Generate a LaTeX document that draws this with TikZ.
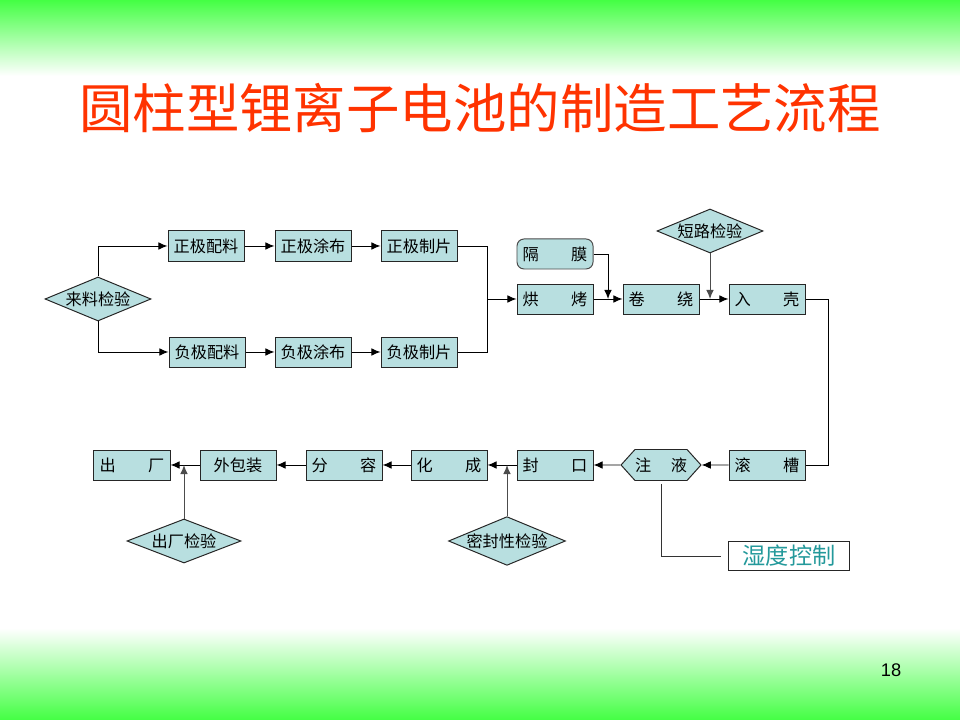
\documentclass[tikz,border=0pt]{standalone}
\usepackage{fontspec}
\setmainfont{Noto Sans CJK SC}
\newfontfamily\numfont{Liberation Sans}
\usetikzlibrary{arrows.meta,shapes.geometric,shapes.symbols,calc}
\definecolor{boxfill}{HTML}{B8DFE0}
\definecolor{titlered}{HTML}{FF3300}
\definecolor{slidegreen}{HTML}{44FF44}
\definecolor{humidtext}{HTML}{23999B}
\newcommand{\pair}[3][1.62cm]{\makebox[#1]{#2\hfill#3}}

\begin{document}
\begin{tikzpicture}[x=0.025cm, y=-0.025cm,
    >={Latex[length=6.5pt,width=5.5pt]}, line width=0.7pt,
    procbox/.style={draw=black!85, fill=boxfill, minimum width=1.9cm,
        minimum height=0.75cm, inner sep=0pt, font=\fontsize{11.5}{12}\selectfont},
    checkdia/.style={diamond, draw=black!85, fill=boxfill, aspect=2.4,
        inner sep=0pt, minimum width=2.65cm, minimum height=1.1cm,
        font=\fontsize{11.5}{12}\selectfont},
    flow/.style={->, black},
    feed/.style={->, black!70}]
    \useasboundingbox (0,0) rectangle (960,720);

    % slide background
    \fill[white] (0,0) rectangle (960,720);
    \shade[top color=slidegreen, bottom color=white] (0,0) rectangle (960,76);
    \shade[top color=white, bottom color=slidegreen] (0,628) rectangle (960,720);

    \node (title) at (480,108) {\fontsize{38}{40}\selectfont\color{titlered}圆柱型锂离子电池的制造工艺流程};
    \node (pagenum) at (891,670) {\numfont\fontsize{13}{14}\selectfont 18};

    % upper line
    \node[checkdia] (check1) at (98,299) {来料检验};
    \node[procbox] (p1) at (206,246) {正极配料};
    \node[procbox] (p2) at (313,246) {正极涂布};
    \node[procbox] (p3) at (419,246) {正极制片};
    \node[procbox] (n1) at (207,352) {负极配料};
    \node[procbox] (n2) at (313,352) {负极涂布};
    \node[procbox] (n3) at (419,352) {负极制片};
    \node[procbox, rounded corners=5pt, draw=black!70] (sep) at (555,254) {\pair{隔}{膜}};
    \node[procbox] (bake) at (555,299) {\pair{烘}{烤}};
    \node[procbox] (wind) at (661,299) {\pair{卷}{绕}};
    \node[procbox] (shell) at (767,299) {\pair{入}{壳}};
    \node[checkdia] (short) at (710,231) {短路检验};
    \coordinate (join) at (487,299);

    % lower line
    \node[procbox] (groove) at (767,465) {\pair{滚}{槽}};
    \node[signal, signal to=east and west, signal pointer angle=96,
        draw=black!85, fill=boxfill, minimum width=1.9cm, minimum height=0.775cm,
        inner sep=0pt, font=\fontsize{11.5}{12}\selectfont] (inject) at (661,465) {\pair[1.3cm]{注}{液}};
    \node[procbox] (seal) at (555,465) {\pair{封}{口}};
    \node[procbox] (form) at (449,465) {\pair{化}{成}};
    \node[procbox] (grade) at (344,465) {\pair{分}{容}};
    \node[procbox] (pack) at (238,465) {外包装};
    \node[procbox] (out) at (132,465) {\pair{出}{厂}};
    \node[checkdia, minimum width=2.8cm] (sealcheck) at (507,541) {密封性检验};
    \node[checkdia, minimum width=2.85cm] (outcheck) at (184,541) {出厂检验};
    \node[draw=black!85, fill=white, minimum width=3.025cm, minimum height=0.725cm,
        inner sep=0pt, text=humidtext, font=\fontsize{16.5}{18}\selectfont] (humid) at (789,556) {湿度控制};

    \draw[flow] (check1.north) |- (p1.west);
    \draw[flow] (check1.south) |- (n1.west);
    \draw[flow] (p1) -- (p2);
    \draw[flow] (p2) -- (p3);
    \draw[flow] (n1) -- (n2);
    \draw[flow] (n2) -- (n3);
    \draw (p3.east) -| (join);
    \draw (n3.east) -| (join);
    \draw[flow] (join) -- (bake.west);
    \draw[flow] (bake) -- (wind);
    \draw[flow] (wind) -- (shell);
    \draw[flow] (sep.east) -| ($(bake.east)!0.5!(wind.west)$);
    \draw[feed] (short.south) -- (short.south |- wind.east);
    \draw (shell.east) -- ++(23,0) |- (groove.east);

    \draw[flow] (groove) -- (inject);
    \draw[flow] (inject) -- (seal);
    \draw[flow] (seal) -- (form);
    \draw[flow] (form) -- (grade);
    \draw[flow] (grade) -- (pack);
    \draw[flow] (pack) -- (out);
    \draw[feed] (sealcheck.north) -- (sealcheck.north |- seal.west);
    \draw[feed] (outcheck.north) -- (outcheck.north |- out.east);
    \draw[black!80] ([yshift=-2pt]inject.south) |- ([xshift=-5pt]humid.west);
\end{tikzpicture}
\end{document}
